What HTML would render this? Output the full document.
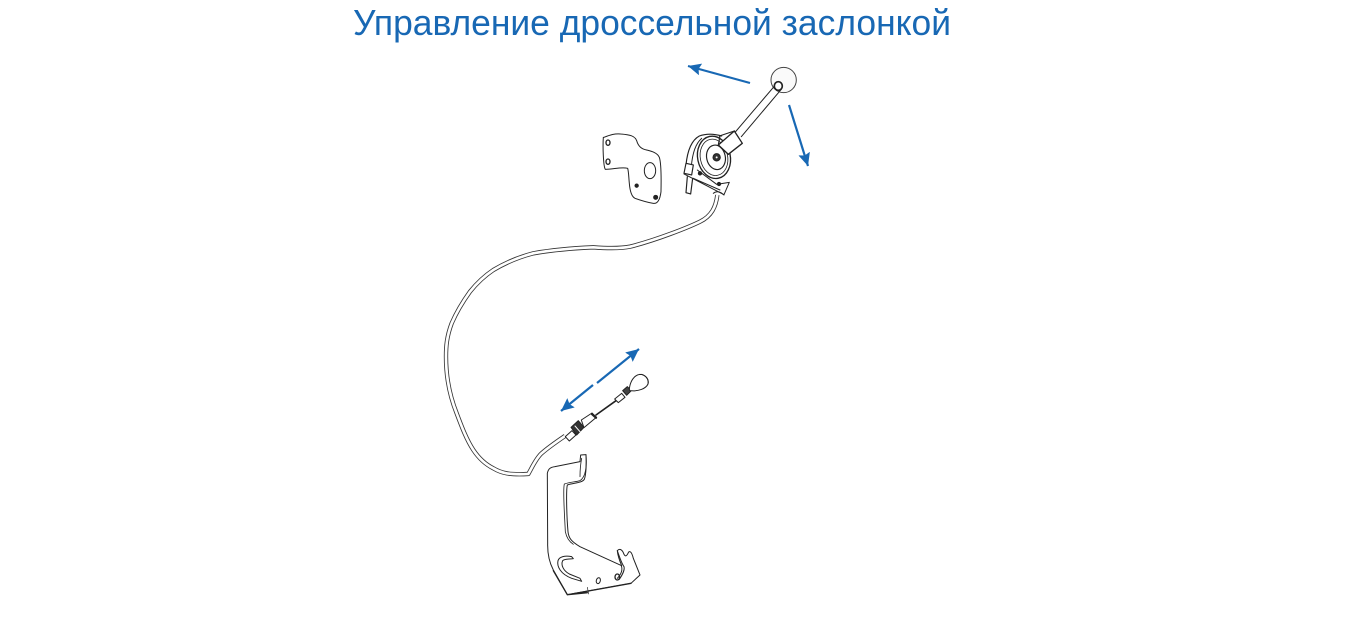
<!DOCTYPE html>
<html><head><meta charset="utf-8"><style>
html,body{margin:0;padding:0;background:#fff;width:1361px;height:632px;overflow:hidden}
svg{position:absolute;left:0;top:0}
</style></head><body>
<svg width="1361" height="632" viewBox="0 0 1361 632" fill="none" stroke-linejoin="round" stroke-linecap="round">
<defs><marker id="a" markerUnits="userSpaceOnUse" markerWidth="16" markerHeight="14" refX="13" refY="6" orient="auto"><path d="M0 0L13 6L0 12L2 6Z" fill="#1868b4"/></marker></defs>
<text x="353" y="35" font-family="Liberation Sans, sans-serif" font-size="36" fill="#1868b4" textLength="598" lengthAdjust="spacingAndGlyphs">Управление дроссельной заслонкой</text>

<g stroke="#1868b4" stroke-width="2.2" stroke-linecap="butt">
<path d="M750 83L688 66" marker-end="url(#a)"/>
<path d="M789 105L808 166" marker-end="url(#a)"/>
<path d="M597 383L639 349" marker-end="url(#a)"/>
<path d="M593 385L561 411" marker-end="url(#a)"/>
</g>

<!-- cable -->
<g transform="translate(430,190) scale(.3333)">
<path d="M862 15C858 50 845 78 810 95C775 112 680 150 600 170C570 176 530 175 490 172C420 175 350 183 310 190C260 203 220 222 190 240C160 260 140 280 120 305C95 340 78 370 65 400C50 440 48 470 48 500C48 560 60 620 80 670C95 710 110 750 130 780C150 810 170 825 190 835C215 850 240 855 295 852C305 835 318 805 335 790C355 772 380 755 405 738" stroke="#333" stroke-width="13" stroke-linecap="butt"/>
<path d="M862 15C858 50 845 78 810 95C775 112 680 150 600 170C570 176 530 175 490 172C420 175 350 183 310 190C260 203 220 222 190 240C160 260 140 280 120 305C95 340 78 370 65 400C50 440 48 470 48 500C48 560 60 620 80 670C95 710 110 750 130 780C150 810 170 825 190 835C215 850 240 855 295 852C305 835 318 805 335 790C355 772 380 755 405 738" stroke="#fff" stroke-width="8" stroke-linecap="butt"/>
</g>

<!-- top parts -->
<g transform="translate(580,50) scale(.3333)" stroke="#222" stroke-width="3">
<circle cx="611" cy="90" r="38" fill="#fafafa" stroke="#444"/>
<path d="M587 104L466 246M604 118L484 260" stroke-width="3" fill="none"/>
<ellipse cx="595" cy="108" rx="12" ry="13" fill="#fff" stroke-width="5"/>
<path d="M72 262C90 255 105 250 122 252C150 254 165 258 170 272C175 290 185 298 200 300C215 304 232 308 238 322C244 340 244 380 243 425C240 450 232 462 220 460C205 458 185 452 165 445C155 440 150 425 148 400C146 380 146 365 143 355C125 350 100 358 76 358C70 350 68 290 70 262Z" fill="#fff" stroke-width="3"/>
<ellipse cx="84" cy="278" rx="6" ry="8" stroke-width="4"/>
<ellipse cx="84" cy="335" rx="6" ry="8" stroke-width="4"/>
<ellipse cx="210" cy="362" rx="17" ry="24" stroke-width="3"/>
<circle cx="170" cy="407" r="5" fill="#222"/>
<circle cx="227" cy="442" r="6" fill="#222"/>
<path d="M318 345C322 305 332 272 358 258C380 250 405 252 425 258" stroke-width="3.5"/>
<path d="M334 350C337 312 345 282 365 265" stroke-width="3"/>
<ellipse cx="402" cy="322" rx="49" ry="64" transform="rotate(-12 402 322)" fill="#fff" stroke-width="4"/>
<ellipse cx="402" cy="322" rx="41" ry="55" transform="rotate(-12 402 322)" stroke-width="2.5"/>
<ellipse cx="408" cy="322" rx="28" ry="37" transform="rotate(-12 408 322)" stroke-width="3.5"/>
<circle cx="410" cy="322" r="11" fill="#333"/>
<circle cx="410" cy="322" r="3" fill="#fff" stroke="none"/>
<path d="M318 340L340 345L335 375L312 370Z" fill="#fff" stroke-width="3.5"/>
<path d="M322 380L318 428L332 432L338 385" fill="#fff" stroke-width="3.5"/>
<path d="M312 372L432 434L448 397M340 385L420 420M352 360L410 403L448 397" stroke-width="3"/>
<circle cx="360" cy="370" r="5" fill="#222"/>
<circle cx="417" cy="402" r="5" fill="#222"/>
<path d="M415 285L463 243L487 280L445 313Z" fill="#fff" stroke-width="4"/>
<path d="M418 258L463 243M415 285L420 258M445 313L415 285" stroke-width="3.5"/>
<path d="M400 430C412 420 425 428 432 435" stroke-width="3"/>
</g>

<!-- lower fitting -->
<g transform="translate(510,340) scale(.3333)" stroke="#222" stroke-width="3">
<path d="M166 290L186 272L198 285L178 303Z" fill="#fff"/>
<path d="M183 262L205 242L222 262L200 285Z" fill="#333" stroke-width="3"/>
<path d="M195 258L210 275" stroke="#fff" stroke-width="3"/>
<path d="M214 240L246 219L258 233L222 263Z" fill="#fff"/>
<path d="M246 222L258 233" stroke-width="7"/>
<path d="M258 225L318 182" stroke-width="5"/>
<path d="M314 177L335 160L345 172L325 188Z" fill="#fff"/>
<path d="M338 152L352 140L364 152L350 166Z" fill="#444"/>
<path d="M358 148C360 125 372 105 390 103C405 103 418 116 414 132C408 146 385 155 360 152Z" fill="#fff"/>
<path d="M395 103C408 108 417 118 414 132" stroke-width="3"/>
</g>

<!-- lower bracket -->
<g transform="translate(530,450) scale(.3333)" stroke="#222" stroke-width="3">
<path d="M152 15L168 14C170 40 168 75 163 88C155 100 130 98 112 105C108 120 110 200 114 245C116 265 125 275 150 290L275 347C270 335 263 315 262 302C268 295 275 298 280 308C285 322 290 320 296 306C302 302 306 310 310 325L330 375L303 400L112 434L70 360C62 345 52 320 53 280L52 70C55 55 62 52 75 50L150 35Z" fill="#fff" stroke-width="3"/>
<path d="M155 25C152 40 150 60 150 80M168 14C170 50 168 80 150 92C135 96 120 96 103 102C98 120 104 200 106 245C110 265 118 275 130 283" stroke-width="2.5"/>
<path d="M70 362L112 434M112 434L172 428M125 432L303 400" stroke-width="4"/>
<path d="M172 412L176 432" stroke-width="2"/>
<path d="M125 320C105 316 88 320 84 332C80 350 92 372 125 385L155 394L150 385L118 372C100 362 92 345 98 332C104 326 115 328 130 326Z" fill="#fff"/>
<ellipse cx="205" cy="392" rx="6" ry="9" transform="rotate(15 205 392)"/>
<ellipse cx="262" cy="381" rx="7" ry="9" stroke-width="4"/>
<path d="M262 302C268 320 275 340 282 350C285 360 275 378 268 388M274 347C278 358 274 372 262 385" stroke-width="3"/>
</g>
</svg>
</body></html>
